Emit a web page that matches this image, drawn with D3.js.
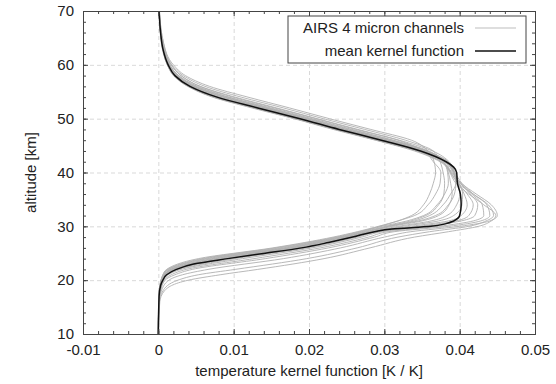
<!DOCTYPE html>
<html>
<head>
<meta charset="utf-8">
<script src="https://cdn.jsdelivr.net/npm/d3@7"></script>
<style>
  body { margin: 0; background: #fff; }
  text { font-family: "Liberation Sans", Arial, sans-serif; }
</style>
</head>
<body>
<div id="chart"></div>
<script>
// tick labels
const xTicks = [-0.01, 0, 0.01, 0.02, 0.03, 0.04, 0.05];
const yTicks = [10, 20, 30, 40, 50, 60, 70];

// mean kernel function (altitude in km, kernel in K/K)
const meanAlt = [10, 17, 19, 20, 21, 22, 23, 24, 25, 26, 27, 28, 29, 29.5, 30, 30.5, 31, 32, 34, 36, 38, 40, 41, 42, 44, 46, 48, 50, 52, 54, 56, 58, 60, 63, 66, 70];
const meanKernel = [0, 0.0001, 0.0003, 0.0006, 0.0011, 0.0024, 0.0047, 0.0092, 0.0142, 0.0190, 0.0226, 0.0258, 0.0287, 0.0310, 0.0362, 0.0382, 0.0392, 0.0400, 0.0402, 0.0401, 0.0397, 0.0396, 0.0392, 0.0382, 0.0348, 0.0296, 0.0240, 0.0188, 0.0132, 0.0078, 0.0042, 0.0022, 0.0013, 0.0006, 0.0003, 0.0001];

// individual AIRS 4 micron channels, all on the same altitude grid
const channelAlt = [10, 16, 18, 20, 21, 22, 24, 26, 28, 29, 30, 31, 32, 34, 36, 38, 40, 42, 44, 46, 48, 50, 52, 54, 56, 58, 60, 64, 70];
const channels = [
  [0, 0.00003, 0.0001, 0.00035, 0.0006, 0.0011, 0.0053, 0.0152, 0.0232, 0.0264, 0.0292, 0.0318, 0.0340, 0.0358, 0.0368, 0.0374, 0.0375, 0.0365, 0.0352, 0.0318, 0.0262, 0.0209, 0.0154, 0.0099, 0.0055, 0.0030, 0.0017, 0.0006, 0.0001],
  [0, 0.00003, 0.00014, 0.00038, 0.00066, 0.0013, 0.0062, 0.0161, 0.0239, 0.0270, 0.0297, 0.0330, 0.0352, 0.0370, 0.0380, 0.0385, 0.0384, 0.0378, 0.0357, 0.0310, 0.0254, 0.0201, 0.0146, 0.0092, 0.0050, 0.0027, 0.0015, 0.0006, 0.0001],
  [0, 0.00004, 0.00015, 0.0004, 0.0007, 0.0014, 0.0066, 0.0166, 0.0242, 0.0273, 0.0302, 0.0335, 0.0355, 0.0372, 0.0379, 0.0380, 0.0378, 0.0374, 0.0365, 0.0328, 0.0274, 0.0219, 0.0166, 0.0110, 0.0062, 0.0033, 0.0018, 0.0007, 0.00015],
  [0, 0.00004, 0.00016, 0.00042, 0.00074, 0.0016, 0.0071, 0.0170, 0.0245, 0.0276, 0.0305, 0.0345, 0.0368, 0.0385, 0.0393, 0.0395, 0.0392, 0.0385, 0.0355, 0.0304, 0.0248, 0.0196, 0.0140, 0.0086, 0.0047, 0.0025, 0.0014, 0.0005, 0.0001],
  [0, 0.00004, 0.00017, 0.00044, 0.00078, 0.0017, 0.0076, 0.0175, 0.0248, 0.0279, 0.0310, 0.0350, 0.0372, 0.0386, 0.0390, 0.0388, 0.0385, 0.0379, 0.0359, 0.0312, 0.0257, 0.0204, 0.0149, 0.0094, 0.0052, 0.0027, 0.0015, 0.0006, 0.0001],
  [0, 0.00004, 0.00018, 0.00046, 0.00082, 0.0019, 0.0082, 0.0180, 0.0252, 0.0281, 0.0318, 0.0362, 0.0383, 0.0396, 0.0400, 0.0398, 0.0394, 0.0382, 0.0348, 0.0296, 0.0240, 0.0188, 0.0132, 0.0078, 0.0042, 0.0022, 0.0013, 0.0005, 0.0001],
  [0, 0.00005, 0.00019, 0.00048, 0.00086, 0.0020, 0.0087, 0.0185, 0.0255, 0.0284, 0.0325, 0.0372, 0.0392, 0.0403, 0.0404, 0.0399, 0.0393, 0.0384, 0.0356, 0.0307, 0.0250, 0.0198, 0.0143, 0.0089, 0.0048, 0.0026, 0.0015, 0.0005, 0.0001],
  [0, 0.00005, 0.0002, 0.0005, 0.0009, 0.0022, 0.0092, 0.0190, 0.0258, 0.0287, 0.0335, 0.0385, 0.0402, 0.0410, 0.0406, 0.0399, 0.0392, 0.0382, 0.0352, 0.0301, 0.0246, 0.0193, 0.0138, 0.0082, 0.0045, 0.0024, 0.0014, 0.0005, 0.0001],
  [0, 0.00005, 0.00022, 0.0006, 0.0011, 0.0026, 0.0102, 0.0197, 0.0264, 0.0292, 0.0345, 0.0395, 0.0412, 0.0418, 0.0410, 0.0398, 0.0388, 0.0376, 0.0343, 0.0290, 0.0235, 0.0182, 0.0127, 0.0074, 0.0040, 0.0021, 0.0012, 0.0005, 0.0001],
  [0, 0.00006, 0.00024, 0.00066, 0.0013, 0.0030, 0.0112, 0.0204, 0.0270, 0.0297, 0.0355, 0.0402, 0.0420, 0.0424, 0.0414, 0.0401, 0.0391, 0.0381, 0.0350, 0.0299, 0.0243, 0.0191, 0.0135, 0.0080, 0.0044, 0.0023, 0.0013, 0.0005, 0.0001],
  [0, 0.00007, 0.00027, 0.00078, 0.0017, 0.0037, 0.0127, 0.0215, 0.0279, 0.0305, 0.0372, 0.0418, 0.0432, 0.0430, 0.0416, 0.0401, 0.0389, 0.0374, 0.0340, 0.0288, 0.0232, 0.0180, 0.0124, 0.0072, 0.0039, 0.0020, 0.0012, 0.0004, 0.0001],
  [0, 0.00008, 0.0003, 0.0009, 0.0022, 0.0045, 0.0142, 0.0226, 0.0287, 0.0313, 0.0385, 0.0428, 0.0440, 0.0436, 0.0418, 0.0403, 0.0393, 0.0380, 0.0347, 0.0296, 0.0240, 0.0188, 0.0132, 0.0078, 0.0042, 0.0022, 0.0013, 0.0005, 0.0001],
  [0, 0.0001, 0.0004, 0.0014, 0.0032, 0.0066, 0.0166, 0.0242, 0.0300, 0.0335, 0.0400, 0.0440, 0.0450, 0.0442, 0.0422, 0.0402, 0.0390, 0.0376, 0.0343, 0.0290, 0.0235, 0.0182, 0.0127, 0.0074, 0.0040, 0.0021, 0.0012, 0.0005, 0.0001],
  [0, 0.00015, 0.0006, 0.0026, 0.0053, 0.0102, 0.0197, 0.0264, 0.0318, 0.0360, 0.0412, 0.0435, 0.0445, 0.0438, 0.0418, 0.0398, 0.0388, 0.0381, 0.0355, 0.0304, 0.0248, 0.0196, 0.0140, 0.0086, 0.0047, 0.0025, 0.0014, 0.0005, 0.0001],
  [0, 0.00003, 0.00013, 0.00036, 0.00062, 0.0012, 0.0058, 0.0156, 0.0236, 0.0267, 0.0294, 0.0318, 0.0336, 0.0352, 0.0360, 0.0365, 0.0368, 0.0366, 0.0358, 0.0336, 0.0282, 0.0227, 0.0174, 0.0119, 0.0068, 0.0036, 0.0020, 0.0007, 0.00015],
  [0, 0.00004, 0.00017, 0.00044, 0.00078, 0.0017, 0.0076, 0.0175, 0.0248, 0.0279, 0.0306, 0.0340, 0.0360, 0.0378, 0.0388, 0.0395, 0.0393, 0.0386, 0.0364, 0.0320, 0.0265, 0.0211, 0.0157, 0.0102, 0.0056, 0.0030, 0.0017, 0.0006, 0.0001],
  [0, 0.0002, 0.0008, 0.0040, 0.0082, 0.0132, 0.0220, 0.0281, 0.0340, 0.0385, 0.0425, 0.0442, 0.0448, 0.0432, 0.0412, 0.0395, 0.0387, 0.0378, 0.0346, 0.0294, 0.0237, 0.0185, 0.0130, 0.0076, 0.0041, 0.0021, 0.0013, 0.0005, 0.0001]
];

const legendLabels = ['AIRS 4 micron channels', 'mean kernel function'];

const width = 556;
const height = 384;
const margin = { top: 11, right: 21, bottom: 50, left: 83 };
const iw = width - margin.left - margin.right;
const ih = height - margin.top - margin.bottom;

const svg = d3.select('#chart')
  .append('svg')
  .attr('width', width)
  .attr('height', height);

svg.append('rect').attr('width', width).attr('height', height).attr('fill', '#fff');

const g = svg.append('g')
  .attr('transform', 'translate(' + margin.left + ',' + margin.top + ')');

const x = d3.scaleLinear().domain([-0.01, 0.05]).range([0, iw]);
const y = d3.scaleLinear().domain([10, 70]).range([ih, 0]);

const fmt = (d) => String(+d.toFixed(2));
const axisColor = '#444';
const gridColor = '#cfcfcf';

// grid
g.append('g')
  .attr('class', 'grid')
  .attr('transform', 'translate(0,' + ih + ')')
  .call(d3.axisBottom(x).tickValues(xTicks.slice(1, -1)).tickSize(-ih).tickFormat(''));
g.append('g')
  .attr('class', 'grid')
  .call(d3.axisLeft(y).tickValues(yTicks.slice(1, -1)).tickSize(-iw).tickFormat(''));
g.selectAll('.grid .domain').remove();
g.selectAll('.grid line')
  .attr('stroke', gridColor)
  .attr('stroke-width', 0.8)
  .attr('stroke-dasharray', '4,3');

// curves
const line = d3.line()
  .x((d) => x(d[1]))
  .y((d) => y(d[0]))
  .curve(d3.curveMonotoneY);

g.append('g')
  .selectAll('path')
  .data(channels)
  .enter()
  .append('path')
  .attr('d', (k) => line(channelAlt.map((a, i) => [a, k[i]])))
  .attr('fill', 'none')
  .attr('stroke', '#b0b0b0')
  .attr('stroke-width', 0.9);

g.append('path')
  .attr('d', line(meanAlt.map((a, i) => [a, meanKernel[i]])))
  .attr('fill', 'none')
  .attr('stroke', '#111')
  .attr('stroke-width', 1.5);

// axes, ticks on all four sides pointing inward
g.append('g').attr('class', 'axis')
  .attr('transform', 'translate(0,' + ih + ')')
  .call(d3.axisBottom(x).tickValues(xTicks).tickSize(-5).tickPadding(10).tickFormat(fmt));
g.append('g').attr('class', 'axis')
  .call(d3.axisLeft(y).tickValues(yTicks).tickSize(-5).tickPadding(9).tickFormat(fmt));
g.append('g').attr('class', 'axis')
  .call(d3.axisTop(x).tickValues(xTicks).tickSize(-5).tickFormat(''));
g.append('g').attr('class', 'axis')
  .attr('transform', 'translate(' + iw + ',0)')
  .call(d3.axisRight(y).tickValues(yTicks).tickSize(-5).tickFormat(''));

// minor ticks
g.append('g').attr('class', 'axis')
  .attr('transform', 'translate(0,' + ih + ')')
  .call(d3.axisBottom(x).tickValues(x.ticks(30)).tickSize(-3).tickFormat(''));
g.append('g').attr('class', 'axis')
  .call(d3.axisTop(x).tickValues(x.ticks(30)).tickSize(-3).tickFormat(''));
g.append('g').attr('class', 'axis')
  .call(d3.axisLeft(y).tickValues(y.ticks(30)).tickSize(-3).tickFormat(''));
g.append('g').attr('class', 'axis')
  .attr('transform', 'translate(' + iw + ',0)')
  .call(d3.axisRight(y).tickValues(y.ticks(30)).tickSize(-3).tickFormat(''));

g.selectAll('.axis .domain').attr('stroke', axisColor);
g.selectAll('.axis .tick line').attr('stroke', axisColor);
g.selectAll('.axis .tick text')
  .attr('fill', '#222')
  .style('font-size', '15px')
  .style('font-family', '"Liberation Sans", Arial, sans-serif');

// axis titles
svg.append('text')
  .attr('x', margin.left + iw / 2)
  .attr('y', 376)
  .attr('text-anchor', 'middle')
  .attr('fill', '#222')
  .style('font-size', '15px')
  .text('temperature kernel function [K / K]');

svg.append('text')
  .attr('transform', 'translate(36,' + (margin.top + ih / 2) + ') rotate(-90)')
  .attr('text-anchor', 'middle')
  .attr('fill', '#222')
  .style('font-size', '15px')
  .text('altitude [km]');

// legend
const legend = g.append('g').attr('transform', 'translate(' + (iw - 247) + ',5)');
legend.append('rect')
  .attr('width', 238)
  .attr('height', 47)
  .attr('fill', '#fff')
  .attr('stroke', axisColor);
const legendColors = ['#bdbdbd', '#111'];
const legendWidths = [1, 1.5];
legendLabels.forEach((label, i) => {
  legend.append('text')
    .attr('x', 176)
    .attr('y', 17 + i * 23)
    .attr('text-anchor', 'end')
    .attr('fill', '#222')
    .style('font-size', '15px')
    .text(label);
  legend.append('line')
    .attr('x1', 187)
    .attr('x2', 228)
    .attr('y1', 12 + i * 23)
    .attr('y2', 12 + i * 23)
    .attr('stroke', legendColors[i])
    .attr('stroke-width', legendWidths[i]);
});
</script>
</body>
</html>
